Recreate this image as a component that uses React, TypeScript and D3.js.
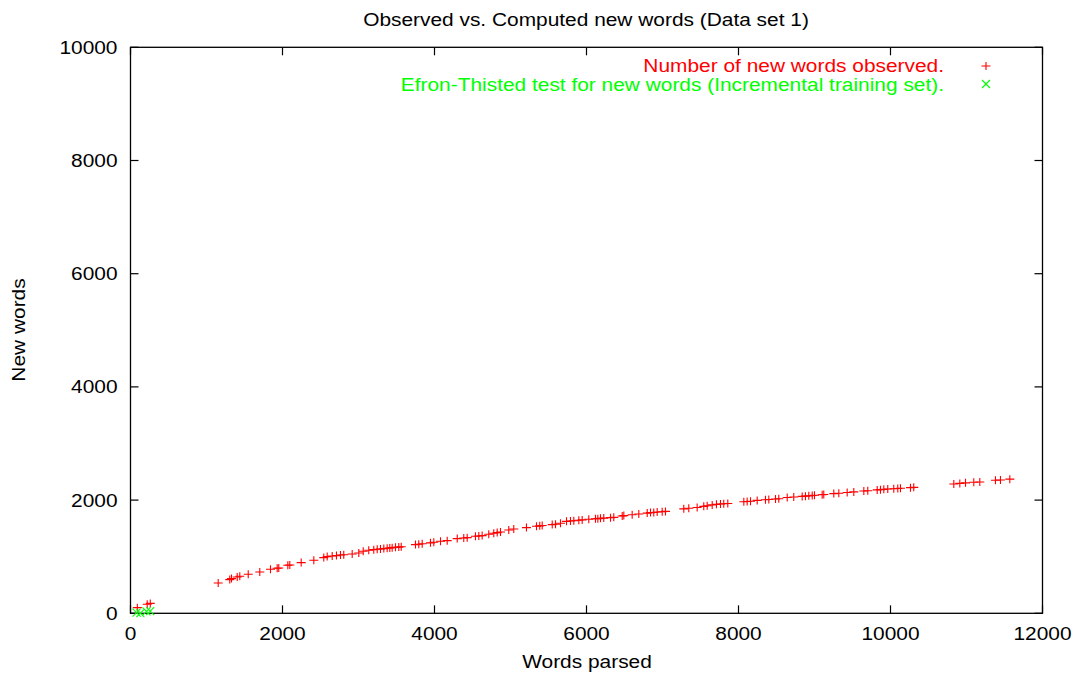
import React from "react";
import * as d3 from "d3";

const title = "Observed vs. Computed new words (Data set 1)";
const xLabel = "Words parsed";
const yLabel = "New words";
const legendObserved = "Number of new words observed.";
const legendEfron = "Efron-Thisted test for new words (Incremental training set).";

const xTicks = [0, 2000, 4000, 6000, 8000, 10000, 12000];
const yTicks = [0, 2000, 4000, 6000, 8000, 10000];

const observedX = [
  90, 220, 260,
  1154, 1306, 1329, 1404, 1438, 1549, 1701, 1842, 1930, 1951, 2070, 2096, 2246, 2412, 2543, 2588,
  2654, 2710, 2763, 2806, 2917, 3004, 3062, 3135, 3201, 3246, 3289, 3333, 3377, 3412, 3443, 3487,
  3530, 3562, 3750, 3793, 3838, 3947, 3991, 4079, 4167, 4299, 4385, 4430, 4539, 4583, 4627, 4714,
  4780, 4825, 4868, 4977, 5043, 5210, 5342, 5385, 5417, 5549, 5592, 5658, 5737, 5789, 5833, 5899,
  5943, 6030, 6118, 6149, 6184, 6227, 6316, 6359, 6470, 6491, 6601, 6688, 6799, 6842, 6885, 6930,
  6996, 7039, 7280, 7346, 7456, 7543, 7588, 7654, 7710, 7763, 7806, 7859, 8070, 8114, 8158, 8246,
  8355, 8399, 8487, 8530, 8641, 8727, 8838, 8881, 8925, 8970, 9000, 9101, 9122, 9254, 9320, 9430,
  9517, 9649, 9701, 9825, 9868, 9912, 9964, 10043, 10096, 10131, 10263, 10306, 10833, 10912, 10987,
  11096, 11175, 11381, 11447, 11570,
];
const observedY = [
  100, 160, 175,
  535, 595, 613, 641, 654, 689, 730, 777, 795, 800, 848, 853, 896, 936, 984, 1002,
  1012, 1019, 1030, 1035, 1048, 1065, 1095, 1113, 1125, 1131, 1136, 1143, 1150, 1155, 1160, 1165,
  1170, 1175, 1214, 1220, 1230, 1245, 1255, 1272, 1284, 1320, 1330, 1337, 1360, 1366, 1373, 1396,
  1413, 1426, 1436, 1472, 1489, 1514, 1537, 1545, 1550, 1567, 1572, 1590, 1625, 1631, 1635, 1645,
  1650, 1661, 1670, 1672, 1678, 1682, 1690, 1695, 1719, 1726, 1740, 1755, 1770, 1779, 1782, 1790,
  1795, 1800, 1845, 1855, 1870, 1890, 1900, 1915, 1925, 1930, 1935, 1940, 1970, 1975, 1980, 1995,
  2005, 2010, 2020, 2025, 2045, 2055, 2065, 2070, 2075, 2080, 2085, 2095, 2100, 2115, 2120, 2135,
  2145, 2160, 2165, 2180, 2185, 2190, 2195, 2200, 2205, 2210, 2220, 2225, 2285, 2295, 2305,
  2315, 2320, 2350, 2355, 2370,
];

const efronX = [80, 130, 210, 260];
const efronY = [10, 5, 35, 40];

const W = 1081;
const H = 677;
const FONT = "'Liberation Sans', Arial, Helvetica, sans-serif";
const FS = 18.5;
const SX = 1.13;

function Label({ x, y, anchor = "middle", color = "#000", rotate = 0, children }: any) {
  return (
    <g transform={`translate(${x},${y}) rotate(${rotate}) scale(${SX},1)`}>
      <text textAnchor={anchor} fill={color} fontFamily={FONT} fontSize={FS}>
        {children}
      </text>
    </g>
  );
}

function Plus({ cx, cy, color }: any) {
  const hw = 4.5, hh = 4;
  return (
    <path d={`M${cx - hw},${cy}H${cx + hw}M${cx},${cy - hh}V${cy + hh}`} stroke={color} strokeWidth={1.1} fill="none" />
  );
}
function Cross({ cx, cy, color }: any) {
  const h = 4;
  return (
    <path d={`M${cx - h},${cy - h}L${cx + h},${cy + h}M${cx - h},${cy + h}L${cx + h},${cy - h}`} stroke={color} strokeWidth={1.1} fill="none" />
  );
}

export default function App() {
  const x = d3.scaleLinear().domain([0, 12000]).range([130.5, 1042.5]);
  const y = d3.scaleLinear().domain([0, 10000]).range([613.3, 47.3]);
  const [x0, x1] = x.range();
  const [y0, y1] = y.range();
  const tickLen = 8;

  return (
    <svg width={W} height={H} style={{ position: "absolute", left: 0, top: 0, background: "#fff" }}>
      <rect x={0} y={0} width={W} height={H} fill="#fff" />
      {xTicks.map((t) => (
        <g key={"xt" + t}>
          <line x1={x(t)} x2={x(t)} y1={y0} y2={y0 - tickLen} stroke="#000" strokeWidth={1.2} />
          <line x1={x(t)} x2={x(t)} y1={y1} y2={y1 + tickLen} stroke="#000" strokeWidth={1.2} />
          <Label x={x(t)} y={639.5}>{String(t)}</Label>
        </g>
      ))}
      {yTicks.map((t) => (
        <g key={"yt" + t}>
          <line x1={x0} x2={x0 + tickLen} y1={y(t)} y2={y(t)} stroke="#000" strokeWidth={1.2} />
          <line x1={x1} x2={x1 - tickLen} y1={y(t)} y2={y(t)} stroke="#000" strokeWidth={1.2} />
          <Label x={117.5} y={y(t) + 6.5} anchor="end">{String(t)}</Label>
        </g>
      ))}
      <rect x={x0} y={y1} width={x1 - x0} height={y0 - y1} fill="none" stroke="#000" strokeWidth={1.3} />

      <Label x={586} y={25.5}>{title}</Label>
      <Label x={587} y={667.5}>{xLabel}</Label>
      <Label x={24.5} y={330} rotate={-90}>{yLabel}</Label>

      <Label x={944} y={72} anchor="end" color="#ff0000">{legendObserved}</Label>
      <Plus cx={986} cy={66} color="#ff0000" />
      <Label x={944} y={90.5} anchor="end" color="#00ff00">{legendEfron}</Label>
      <Cross cx={986} cy={84} color="#00ff00" />

      {observedX.map((v, i) => (
        <Plus key={"o" + i} cx={x(v)} cy={y(observedY[i])} color="#ff0000" />
      ))}
      {efronX.map((v, i) => (
        <Cross key={"e" + i} cx={x(v)} cy={y(efronY[i])} color="#00ff00" />
      ))}
    </svg>
  );
}
